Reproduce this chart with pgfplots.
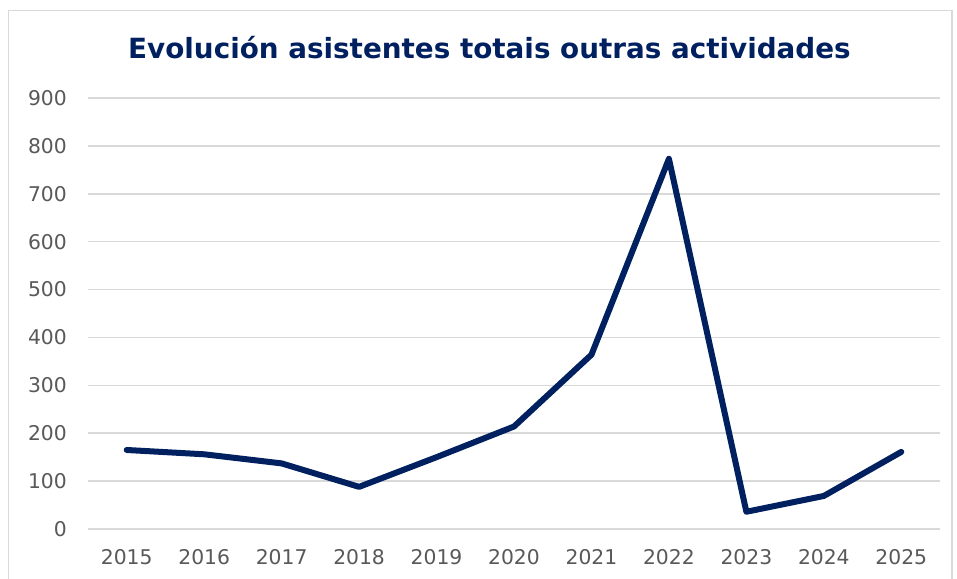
\documentclass[border=0pt]{standalone}
\usepackage{pgfplots}
\pgfplotsset{compat=1.18}
\usepackage{fontspec}
\setmainfont{DejaVu Sans}
\definecolor{navy}{HTML}{002060}
\definecolor{gridgray}{HTML}{D9D9D9}
\definecolor{ticktext}{HTML}{595959}
\begin{document}
\begin{tikzpicture}[x=1pt,y=1pt]
\useasboundingbox (0,0) rectangle (957,578);
\fill[white] (0,0) rectangle (957,578);
\draw[gridgray, line width=1.5pt] (8.5,-10) rectangle (952,567.5);
\node[anchor=base, text=navy, font=\fontsize{27.8}{32}\selectfont\bfseries] at (489.5,519) {Evolución asistentes totais outras actividades};
\begin{axis}[
  at={(88pt,49pt)}, anchor=south west,
  scale only axis, width=852pt, height=431pt,
  xmin=-0.5, xmax=10.5, ymin=0, ymax=900,
  xtick={0,...,10},
  xticklabels={2015,2016,2017,2018,2019,2020,2021,2022,2023,2024,2025},
  ytick={0,100,...,900},
  axis line style={draw=none},
  major tick length=0pt,
  ymajorgrids, grid style={gridgray, line width=1.6pt},
  /pgf/number format/assume math mode=true,
  tick label style={font=\fontsize{20.3}{24}\selectfont, text=ticktext, inner sep=0pt},
  yticklabel style={anchor=east, xshift=-21pt},
  xticklabel style={anchor=north, yshift=-20pt},
  clip=false,
]
\addplot[navy, line width=6pt, line join=round, line cap=round] coordinates {
 (0,165) (1,156) (2,137) (3,88) (4,150) (5,214) (6,364) (7,773) (8,36) (9,69) (10,161)
};
\end{axis}
\end{tikzpicture}
\end{document}
